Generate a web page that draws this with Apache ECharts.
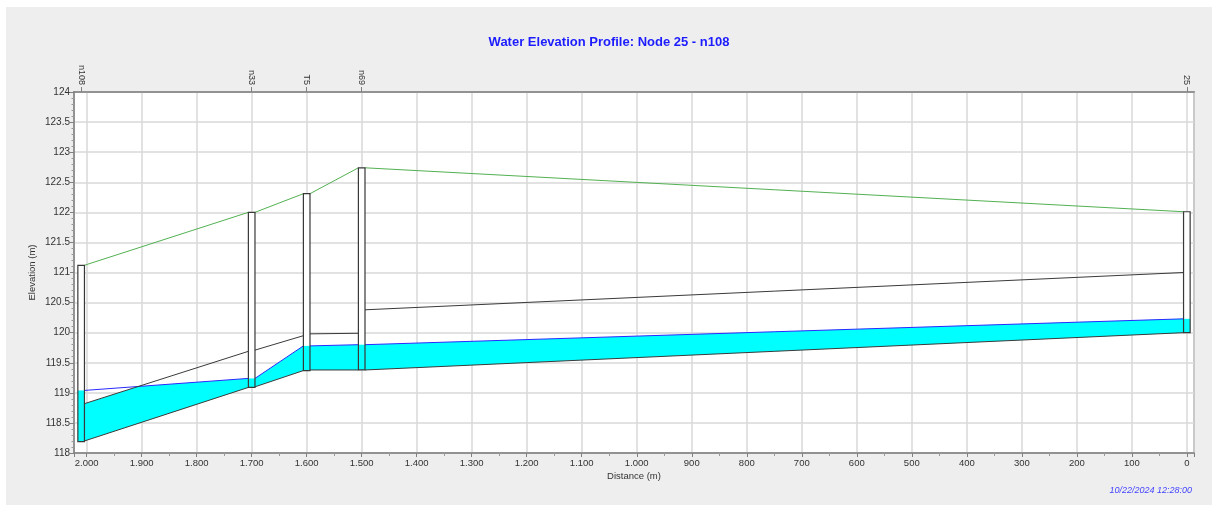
<!DOCTYPE html>
<html>
<head>
<meta charset="utf-8">
<script src="https://cdn.jsdelivr.net/npm/echarts@6/dist/echarts.min.js"></script>
<style>
html,body{margin:0;padding:0;background:#ffffff;}
#wrap{position:absolute;left:6px;top:7px;width:1206px;height:498px;background:#eeeeee;}
#chart{width:1206px;height:498px;}
</style>
</head>
<body>
<div id="wrap"><div id="chart"></div></div>
<script>
// ---- data ----
const titleText = 'Water Elevation Profile: Node 25 - n108';
const timestampText = '10/22/2024 12:28:00';
const xAxisName = 'Distance (m)';
const yAxisName = 'Elevation (m)';

const nodeNames  = ['n108', 'n33', 'T5', 'n69', '25'];
const nodeDist   = [2010, 1700, 1600, 1500, 0];
const nodeTop    = [121.12, 122.00, 122.31, 122.74, 122.01];
const nodeInvert = [118.19, 119.09, 119.37, 119.38, 120.00];
const nodeWater  = [119.04, 119.24, 119.78, 119.80, 120.23];

// links between consecutive nodes (upstream = left node, downstream = right node)
const pipeInvertUp = [118.20, 119.10, 119.38, 119.38];
const pipeInvertDn = [119.09, 119.37, 119.38, 120.00];
const pipeCrownUp  = [118.82, 119.71, 119.98, 120.38];
const pipeCrownDn  = [119.69, 119.95, 119.99, 121.00];

const xMin = -13, xMax = 2023;
const yMin = 118, yMax = 124, yStep = 0.5;

// ---- styles ----
const FONT = 'Liberation Sans, Arial, sans-serif';
const GRID_COLOR = '#d9d9d9';
const AXIS_COLOR = '#808080';
const LABEL_COLOR = '#333333';
const HALF_W = 3.3; // half width of node shafts in px

function fmtDist(v) {
  v = Math.round(v);
  if (v >= 1000) {
    const t = Math.floor(v / 1000), r = v % 1000;
    return t + '.' + String(r).padStart(3, '0');
  }
  return String(v === 0 ? 0 : v);
}

const chart = echarts.init(document.getElementById('chart'), null, {renderer: 'canvas'});

const pipeData = pipeInvertUp.map((_, i) => [nodeDist[i], pipeInvertUp[i], i]);
const nodeData = nodeNames.map((_, i) => [nodeDist[i], nodeInvert[i], i]);

function renderPipe(params, api) {
  const i = api.value(2);
  const X = d => api.coord([d, yMin])[0];
  const Y = v => api.coord([xMin, v])[1];
  const xa = X(nodeDist[i]) + HALF_W;
  const xb = X(nodeDist[i + 1]) - HALF_W;
  const iA = Y(pipeInvertUp[i]), iB = Y(pipeInvertDn[i]);
  const cA = Y(pipeCrownUp[i]), cB = Y(pipeCrownDn[i]);
  const wA = Y(nodeWater[i]), wB = Y(nodeWater[i + 1]);
  const gA = Y(nodeTop[i]), gB = Y(nodeTop[i + 1]);

  // water fill clipped by the pipe crown (pixel y grows downward)
  const pts = [[xa, iA], [xb, iB], [xb, Math.max(wB, cB)]];
  const dA = wA - cA, dB = wB - cB;
  if ((dA < 0 && dB > 0) || (dA > 0 && dB < 0)) {
    const t = dA / (dA - dB);
    pts.push([xa + t * (xb - xa), wA + t * (wB - wA)]);
  }
  pts.push([xa, Math.max(wA, cA)]);

  return {
    type: 'group',
    children: [
      {type: 'polygon', shape: {points: pts}, style: {fill: '#00ffff', stroke: null}},
      {type: 'line', shape: {x1: xa, y1: wA, x2: xb, y2: wB}, style: {stroke: '#2a2aff', lineWidth: 1}},
      {type: 'line', shape: {x1: xa, y1: cA, x2: xb, y2: cB}, style: {stroke: '#3a3a3a', lineWidth: 1}},
      {type: 'line', shape: {x1: xa, y1: iA, x2: xb, y2: iB}, style: {stroke: '#3a3a3a', lineWidth: 1}},
      {type: 'line', shape: {x1: xa, y1: gA, x2: xb, y2: gB}, style: {stroke: '#52b152', lineWidth: 1}}
    ]
  };
}

function renderNode(params, api) {
  const i = api.value(2);
  const x = api.coord([nodeDist[i], yMin])[0];
  const Y = v => api.coord([xMin, v])[1];
  const yT = Y(nodeTop[i]), yI = Y(nodeInvert[i]), yW = Y(nodeWater[i]);
  const x0 = x - HALF_W, w = HALF_W * 2;
  return {
    type: 'group',
    children: [
      {type: 'rect', shape: {x: x0, y: yT, width: w, height: yI - yT}, style: {fill: '#ffffff', stroke: null}},
      {type: 'rect', shape: {x: x0, y: yW, width: w, height: yI - yW}, style: {fill: '#00ffff', stroke: null}},
      {type: 'rect', shape: {x: x0, y: yT, width: w, height: yI - yT}, style: {fill: null, stroke: '#383838', lineWidth: 1.2}}
    ]
  };
}

const option = {
  animation: false,
  backgroundColor: 'transparent',
  textStyle: {fontFamily: FONT},
  title: {
    text: titleText,
    left: 'center',
    top: 24,
    textStyle: {color: '#1c1cff', fontSize: 13, fontWeight: 'bold', fontFamily: FONT}
  },
  graphic: [{
    type: 'text',
    right: 20,
    top: 479,
    style: {text: timestampText, fill: '#4444ff', font: 'italic 9px ' + FONT}
  }],
  grid: {
    left: 68, right: 18, top: 85, bottom: 52,
    show: true, backgroundColor: '#ffffff', borderColor: AXIS_COLOR, borderWidth: 1.5
  },
  xAxis: [{
    type: 'value',
    min: xMin, max: xMax, splitNumber: 20, inverse: true,
    position: 'bottom',
    name: xAxisName, nameLocation: 'middle', nameGap: 18, nameMoveOverlap: false,
    nameTextStyle: {color: LABEL_COLOR, fontSize: 9.5, fontFamily: FONT},
    axisLine: {show: true, onZero: false, lineStyle: {color: AXIS_COLOR, width: 1.5}},
    axisTick: {show: true, length: 4, lineStyle: {color: AXIS_COLOR}},
    minorTick: {show: true, splitNumber: 2, length: 3, lineStyle: {color: '#999'}},
    axisLabel: {
      color: LABEL_COLOR, fontSize: 9.5, margin: 5, fontFamily: FONT,
      showMinLabel: false, showMaxLabel: false,
      formatter: v => (Math.abs(Math.round(v) % 100) === 0 ? fmtDist(v) : '')
    },
    splitLine: {show: true, lineStyle: {color: GRID_COLOR, width: 1.5}}
  }, {
    type: 'value',
    min: xMin, max: xMax, inverse: true,
    position: 'top',
    axisLine: {show: true, onZero: false, lineStyle: {color: AXIS_COLOR, width: 1.5}},
    axisTick: {show: true, customValues: nodeDist, length: 5, lineStyle: {color: AXIS_COLOR}},
    axisLabel: {
      customValues: nodeDist, rotate: 90, margin: 7,
      color: LABEL_COLOR, fontSize: 9, fontFamily: FONT,
      formatter: v => { const k = nodeDist.indexOf(Math.round(v)); return k >= 0 ? nodeNames[k] : ''; }
    },
    splitLine: {show: false}
  }],
  yAxis: {
    type: 'value',
    min: yMin, max: yMax, interval: yStep,
    name: yAxisName, nameLocation: 'middle', nameGap: 37, nameMoveOverlap: false,
    nameTextStyle: {color: LABEL_COLOR, fontSize: 9.5, fontFamily: FONT},
    axisLine: {show: true, onZero: false, lineStyle: {color: AXIS_COLOR, width: 1.5}},
    axisTick: {show: true, length: 4, lineStyle: {color: AXIS_COLOR}},
    minorTick: {show: true, splitNumber: 5, length: 2.5, lineStyle: {color: '#999'}},
    axisLabel: {color: LABEL_COLOR, fontSize: 10, margin: 4, fontFamily: FONT},
    splitLine: {show: true, lineStyle: {color: GRID_COLOR, width: 1.5}}
  },
  series: [{
    type: 'custom',
    name: 'links',
    xAxisIndex: 0, yAxisIndex: 0,
    renderItem: renderPipe,
    encode: {x: 0, y: 1},
    data: pipeData,
    z: 2
  }, {
    type: 'custom',
    name: 'nodes',
    xAxisIndex: 0, yAxisIndex: 0,
    renderItem: renderNode,
    encode: {x: 0, y: 1},
    data: nodeData,
    z: 3
  }]
};

chart.setOption(option);
</script>
</body>
</html>
